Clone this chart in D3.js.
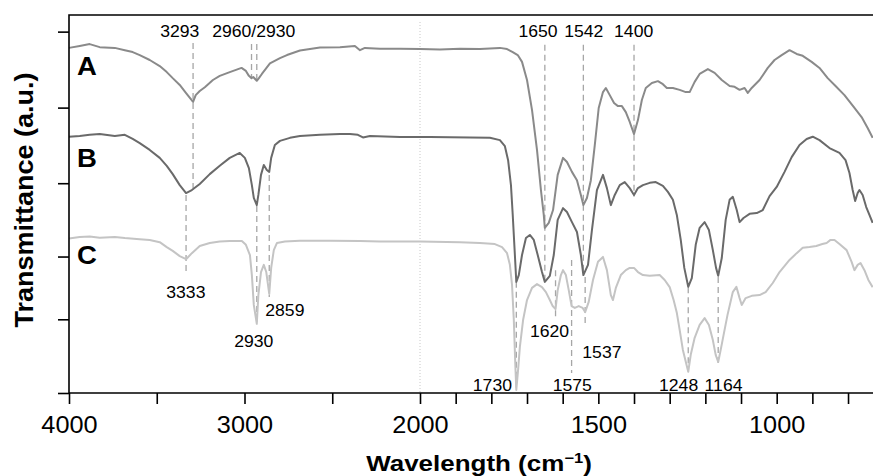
<!DOCTYPE html>
<html>
<head>
<meta charset="utf-8">
<script src="https://cdn.jsdelivr.net/npm/d3@7"></script>
<style>
  body { margin: 0; background: #fff; }
  text { font-family: "Liberation Sans", Arial, Helvetica, sans-serif; fill: #000; }
</style>
</head>
<body>
<script>
const width = 873;
const height = 476;
const m = { top: 15, left: 69, bottom: 393 };

// spectra: [wavenumber (cm-1), transmittance (a.u.)]
const specA = [
  [4000, 91.3], [3939, 91.8], [3882, 92.3], [3825, 91.5], [3739, 91.3], [3682, 90.7],
  [3637, 90.2], [3597, 89.4], [3540, 88.1], [3483, 86.5], [3443, 84.9], [3409, 83.3],
  [3369, 81.5], [3334, 79.4], [3293, 77.0], [3278, 78.8], [3255, 79.9], [3226, 80.9],
  [3180, 82.8], [3141, 83.9], [3084, 84.9], [3017, 86.0], [2992, 85.2], [2975, 83.9],
  [2960, 83.3], [2950, 83.6], [2930, 82.6], [2918, 83.3], [2901, 84.4], [2855, 87.2],
  [2798, 88.6], [2758, 89.4], [2684, 90.6], [2570, 91.4], [2456, 91.5], [2371, 91.8],
  [2342, 90.7], [2314, 91.3], [2228, 91.1], [2114, 91.1], [2000, 91.0], [1944, 90.9],
  [1888, 91.1], [1832, 91.0], [1776, 91.3], [1756, 91.0], [1740, 90.2], [1726, 89.4],
  [1714, 87.6], [1700, 82.8], [1686, 74.9], [1672, 64.3], [1661, 53.7], [1653, 47.1],
  [1650, 43.7], [1639, 45.0], [1627, 48.4], [1614, 57.7], [1599, 62.2], [1588, 61.1],
  [1574, 58.5], [1560, 56.3], [1549, 52.4], [1542, 49.7], [1532, 51.6], [1521, 56.3],
  [1510, 65.6], [1499, 75.4], [1487, 79.6], [1479, 80.7], [1468, 78.8], [1456, 76.7],
  [1445, 75.9], [1434, 75.9], [1423, 74.3], [1412, 71.7], [1400, 68.5], [1389, 72.2],
  [1378, 77.5], [1367, 80.7], [1350, 82.0], [1333, 82.5], [1319, 81.7], [1308, 80.7],
  [1291, 80.7], [1272, 80.2], [1255, 79.6], [1244, 79.6], [1230, 82.3], [1216, 84.4],
  [1193, 85.7], [1174, 84.7], [1154, 82.8], [1132, 81.2], [1118, 81.0], [1104, 80.2],
  [1090, 80.7], [1081, 79.4], [1070, 80.7], [1048, 82.8], [1025, 86.0], [1006, 88.1],
  [986, 89.4], [964, 90.7], [944, 89.7], [927, 89.2], [902, 87.6], [880, 86.0],
  [857, 83.3], [835, 81.2], [810, 78.8], [782, 75.4], [762, 73.0], [745, 70.1], [731, 67.5]
];

const specB = [
  [4000, 67.8], [3939, 68.0], [3882, 68.3], [3825, 68.5], [3739, 68.0], [3682, 68.3],
  [3637, 67.2], [3597, 66.1], [3540, 64.3], [3483, 62.2], [3443, 60.1], [3409, 57.9],
  [3369, 55.0], [3333, 52.9], [3300, 53.7], [3255, 55.3], [3198, 57.9], [3141, 60.1],
  [3084, 62.2], [3027, 63.5], [2998, 62.2], [2975, 59.5], [2958, 55.0], [2947, 51.6],
  [2930, 49.7], [2921, 52.4], [2906, 57.7], [2890, 60.3], [2873, 59.0], [2859, 58.5],
  [2848, 62.2], [2827, 65.6], [2798, 66.7], [2741, 67.5], [2684, 68.0], [2570, 68.3],
  [2456, 68.5], [2399, 68.5], [2354, 68.3], [2325, 67.6], [2285, 68.0], [2114, 67.7],
  [1972, 67.7], [1860, 67.6], [1804, 67.5], [1776, 66.9], [1762, 65.3], [1753, 61.6],
  [1745, 55.0], [1740, 47.1], [1734, 36.5], [1730, 29.4], [1723, 31.2], [1714, 36.5],
  [1703, 41.0], [1692, 41.8], [1681, 40.5], [1670, 36.5], [1658, 32.0], [1650, 29.4],
  [1636, 31.0], [1625, 36.5], [1614, 45.8], [1599, 48.9], [1588, 47.9], [1574, 45.2],
  [1560, 42.6], [1549, 36.5], [1542, 31.2], [1529, 33.9], [1518, 43.1], [1504, 53.7],
  [1487, 57.7], [1476, 54.2], [1465, 49.7], [1454, 52.4], [1440, 55.0], [1426, 55.8],
  [1412, 54.2], [1400, 52.4], [1389, 54.2], [1375, 55.0], [1356, 55.6], [1339, 55.8],
  [1319, 54.8], [1305, 53.2], [1291, 51.1], [1280, 47.1], [1269, 40.5], [1259, 33.1],
  [1248, 28.1], [1238, 30.4], [1227, 39.2], [1216, 43.7], [1202, 45.2], [1190, 43.1],
  [1179, 37.8], [1170, 33.1], [1164, 31.0], [1154, 35.7], [1143, 45.8], [1132, 51.1],
  [1123, 51.9], [1112, 48.4], [1104, 45.2], [1093, 46.3], [1076, 47.4], [1056, 47.6],
  [1039, 48.4], [1020, 52.1], [1000, 54.5], [978, 58.5], [958, 62.4], [936, 65.6],
  [916, 67.2], [899, 67.8], [880, 66.9], [852, 64.8], [824, 63.5], [807, 61.6],
  [796, 58.2], [787, 53.7], [780, 50.8], [773, 52.9], [768, 53.7], [759, 52.4],
  [749, 49.2], [740, 47.1], [731, 45.0]
];

const specC = [
  [4000, 40.9], [3939, 41.3], [3882, 41.4], [3825, 41.1], [3739, 41.3], [3682, 41.0],
  [3597, 40.7], [3540, 40.5], [3483, 39.9], [3443, 38.6], [3409, 37.6], [3369, 36.2],
  [3333, 35.4], [3300, 37.0], [3255, 38.9], [3198, 39.7], [3141, 40.1], [3084, 40.2],
  [3015, 40.2], [2992, 39.2], [2969, 36.5], [2958, 31.2], [2947, 23.3], [2930, 18.3],
  [2921, 25.9], [2906, 32.0], [2890, 33.9], [2876, 32.0], [2859, 26.2], [2848, 33.1],
  [2833, 37.8], [2815, 39.7], [2770, 40.1], [2684, 40.3], [2513, 40.3], [2342, 40.2],
  [2228, 40.1], [2000, 40.1], [1888, 39.9], [1832, 39.7], [1790, 39.4], [1770, 38.6],
  [1756, 37.0], [1748, 33.9], [1742, 28.6], [1737, 19.3], [1733, 8.0], [1730, 0.8],
  [1725, 6.1], [1720, 12.2], [1711, 19.3], [1700, 24.6], [1686, 27.8], [1672, 28.8],
  [1658, 28.0], [1647, 26.7], [1636, 24.6], [1628, 23.0], [1620, 22.2], [1614, 27.2],
  [1605, 31.2], [1599, 32.5], [1591, 31.2], [1583, 27.2], [1575, 23.0], [1566, 22.5],
  [1555, 23.0], [1544, 22.5], [1537, 21.4], [1527, 24.1], [1515, 29.9], [1501, 34.7],
  [1487, 36.0], [1476, 32.5], [1465, 25.9], [1459, 24.6], [1451, 27.8], [1437, 31.2],
  [1423, 32.5], [1412, 33.1], [1400, 33.1], [1389, 32.0], [1375, 31.2], [1356, 31.0],
  [1328, 31.2], [1314, 29.9], [1300, 28.0], [1289, 24.6], [1280, 21.2], [1272, 16.7],
  [1263, 11.4], [1248, 5.6], [1241, 10.1], [1230, 14.6], [1216, 18.0], [1202, 19.8],
  [1190, 18.0], [1179, 14.0], [1171, 10.1], [1164, 8.2], [1157, 11.4], [1149, 15.3],
  [1138, 20.6], [1123, 26.7], [1113, 28.1], [1104, 25.1], [1098, 23.3], [1087, 25.1],
  [1070, 25.7], [1048, 25.9], [1031, 26.7], [1011, 29.1], [992, 32.0], [964, 35.2],
  [944, 37.0], [927, 38.4], [908, 38.6], [889, 38.9], [872, 39.4], [860, 39.7],
  [849, 40.5], [838, 40.5], [824, 39.4], [804, 37.8], [790, 34.7], [782, 32.5],
  [773, 33.9], [765, 34.4], [754, 32.5], [743, 29.9], [731, 28.0]
];

const seriesNames = ["A", "B", "C"];
const seriesColors = ["#8a8a8a", "#6a6a6a", "#c4c4c4"];
const seriesLabelY = [84.1, 59.9, 34.1];

// dashed peak markers: [wavenumber, from, to]
const peakLines = [
  [3293, 92.6, 54.2], [2960, 92.3, 83.3], [2930, 92.3, 82.6], [1650, 92.1, 29.4],
  [1542, 92.1, 31.2], [1400, 92.1, 51.9], [3333, 52.4, 31.7], [2930, 49.5, 18.0],
  [2859, 57.7, 25.4], [1730, 29.4, 0.8], [1620, 32.5, 20.1], [1575, 35.2, 5.3],
  [1537, 30.7, 18.5], [1248, 28.0, 6.9], [1164, 30.7, 6.9]
];

// peak labels: [text, centre wavenumber, baseline]
const peakLabels = [
  ["3293", 3369, 94.1], ["2960/2930", 2947, 94.1], ["1650", 1669, 94.1],
  ["1542", 1541, 94.1], ["1400", 1401, 94.1], ["3333", 3334, 25.1],
  ["2930", 2947, 12.1], ["2859", 2770, 20.4], ["1620", 1637, 14.7],
  ["1537", 1490, 9.2], ["1730", 1797, 0.5], ["1575", 1573, 0.5],
  ["1248", 1275, 0.5], ["1164", 1149, 0.5]
];

const xTicks = [4000, 3500, 3000, 2500, 2000, 1900, 1800, 1700, 1600, 1500, 1400, 1300, 1200, 1100, 1000, 900, 800];
const xTickLabels = [4000, 3000, 2000, 1500, 1000];
const yTicks = [0, 19.5, 36.1, 55.5, 75.5, 95.6];

// axis has a scale change at 2000 cm-1
const x = d3.scaleLinear().domain([4000, 2000, 730]).range([m.left, m.left + 351, width]);
const y = d3.scaleLinear().domain([0, 100]).range([m.bottom, m.top]);

const svg = d3.select("body").append("svg")
    .attr("width", width)
    .attr("height", height);

// text in the figure is a bit wider than Arial
function widen(sel, k) {
  sel.each(function () {
    const w = this.getComputedTextLength();
    d3.select(this).attr("textLength", w * k).attr("lengthAdjust", "spacingAndGlyphs");
  });
}

// break marker at 2000
svg.append("line")
    .attr("x1", x(2000)).attr("x2", x(2000))
    .attr("y1", m.top + 7).attr("y2", m.bottom)
    .attr("stroke", "#c8c8c8").attr("stroke-width", 1)
    .attr("stroke-dasharray", "1,2");

svg.append("g").selectAll("line")
  .data(peakLines)
  .enter().append("line")
    .attr("x1", d => x(d[0])).attr("x2", d => x(d[0]))
    .attr("y1", d => y(d[1])).attr("y2", d => y(d[2]))
    .attr("stroke", "#a6a6a6").attr("stroke-width", 1.3)
    .attr("stroke-dasharray", "6,4");

const line = d3.line().x(d => x(d[0])).y(d => y(d[1]));

svg.append("g").selectAll("path")
  .data([specA, specB, specC])
  .enter().append("path")
    .attr("d", line)
    .attr("fill", "none")
    .attr("stroke", (d, i) => seriesColors[i])
    .attr("stroke-width", 2)
    .attr("stroke-linejoin", "round");

// axes
const gx = svg.append("g")
    .attr("transform", `translate(0,${m.bottom})`)
    .call(d3.axisBottom(x).tickValues(xTicks).tickSize(11).tickPadding(13)
      .tickFormat(d => xTickLabels.includes(d) ? d : ""));
gx.select(".domain").remove();
gx.selectAll("line").attr("stroke", "#000").attr("stroke-width", 1.6);
gx.selectAll("text").attr("font-size", 23).attr("fill", "#000").call(widen, 1.1);

const gy = svg.append("g")
    .attr("transform", `translate(${m.left},0)`)
    .call(d3.axisLeft(y).tickValues(yTicks).tickSize(11).tickFormat(""));
gy.select(".domain").remove();
gy.selectAll("line").attr("stroke", "#000").attr("stroke-width", 1.6);

svg.append("path")
    .attr("d", `M${width},${m.top}H${m.left}V${m.bottom}H${width}`)
    .attr("fill", "none").attr("stroke", "#000").attr("stroke-width", 1.6);

// curve names
svg.append("g").selectAll("text")
  .data(seriesNames)
  .enter().append("text")
    .attr("x", x(4000) + 8)
    .attr("y", (d, i) => y(seriesLabelY[i]))
    .attr("font-size", 25).attr("font-weight", "bold")
    .text(d => d)
    .call(widen, 1.1);

svg.append("g").selectAll("text")
  .data(peakLabels)
  .enter().append("text")
    .attr("x", d => x(d[1]))
    .attr("y", d => y(d[2]))
    .attr("text-anchor", "middle")
    .attr("font-size", 16)
    .text(d => d[0])
    .call(widen, 1.1);

// titles
const xt = svg.append("text")
    .attr("x", 479).attr("y", 471)
    .attr("text-anchor", "middle")
    .attr("font-size", 22).attr("font-weight", "bold");
xt.append("tspan").text("Wavelength (cm");
xt.append("tspan").attr("font-size", 14).attr("dy", -8).text("\u22121");
xt.append("tspan").attr("dy", 8).text(")");
xt.call(widen, 1.18);

svg.append("text")
    .attr("transform", "translate(33,200) rotate(-90)")
    .attr("text-anchor", "middle")
    .attr("font-size", 25).attr("font-weight", "bold")
    .text("Transmittance (a.u.)")
    .call(widen, 1.08);
</script>
</body>
</html>
